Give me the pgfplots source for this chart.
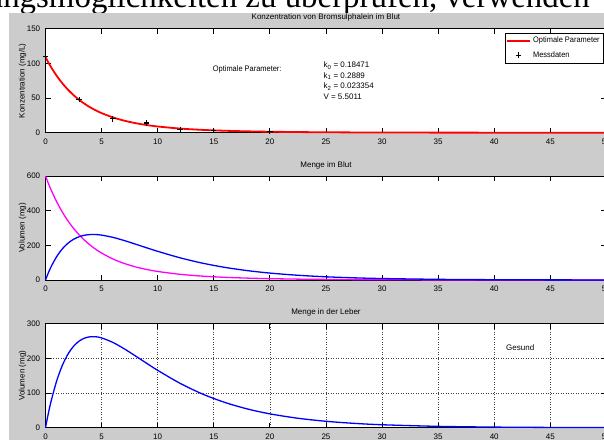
\documentclass[border=0pt]{standalone}
\usepackage{pgfplots}
\pgfplotsset{compat=1.18}
\usepackage{fontspec}
\setmainfont{Liberation Sans}
\newfontfamily\docfont{Liberation Serif}
\newfontfamily\narrowfont[FakeStretch=0.93]{Liberation Sans}
\newcommand{\mfont}{\fontsize{8}{9.6}\selectfont}
\definecolor{figgray}{RGB}{204,204,204}
\definecolor{mred}{RGB}{255,0,0}
\definecolor{mblue}{RGB}{0,0,255}
\definecolor{mmag}{RGB}{255,0,255}

\pgfplotsset{
 mstyle/.style={
  scale only axis, width=560.9pt, height=104pt, anchor=south west,
  xmin=0, xmax=50, xtick={0,5,...,50},
  tick align=inside, tick pos=both, xticklabel pos=lower, yticklabel pos=left,
  major tick length=5pt,
  axis line style={black, line width=0.8pt},
  every tick/.style={black, line width=0.8pt},
  axis background/.style={fill=white},
  tick label style={font=\mfont},
  every axis title/.style={at={(0.5,1)}, anchor=center, yshift=11pt, font=\mfont},
  every axis y label/.style={at={(axis description cs:-0.041,0.5)}, rotate=90, anchor=center, font=\mfont},
  xticklabel style={yshift=-2.4pt},
  yticklabel style={xshift=-1.8pt},
  /pgf/number format/assume math mode=true,
  scaled ticks=false,
  clip=false,
 }
}

\begin{document}
\begin{tikzpicture}[x=1pt,y=1pt]
\path[use as bounding box] (0pt,0pt) rectangle (604pt,-439pt);
\begin{scope}
\clip (0pt,0pt) rectangle (604pt,-439pt);
\fill[white] (0pt,0pt) rectangle (604pt,-439pt);
\node[anchor=base east, inner sep=0, font=\docfont\fontsize{32.9}{34}\selectfont] at (590pt,-7.5pt) {angsmöglichkeiten zu überprüfen, verwenden};
\fill[figgray] (9pt,-12.7pt) rectangle (620pt,-450pt);

% Panel 1
\begin{axis}[mstyle, at={(45.5pt,-132.7pt)},
  ymin=0, ymax=150, ytick={0,50,100,150},
  title={Konzentration von Bromsulphalein im Blut},
  ylabel={Konzentration (mg/L)},
  legend style={at={(0.9938,0.959)}, anchor=north east, draw=black, fill=white, font=\narrowfont\mfont, inner xsep=1pt, inner ysep=2pt, row sep=3pt, cells={anchor=west}},
  legend image code/.code={\draw[mark repeat=2,mark phase=2,#1] plot coordinates {(0pt,0pt) (11.5pt,0pt) (23pt,0pt)};}
]
\addplot[mred, line width=1.8pt, smooth, no marks] coordinates {
(0,109.07)(0.25,101.49)(0.5,94.48)(1,81.98)(1.5,71.27)(2,62.07)(2.5,54.17)(3,47.37)(3.5,41.50)(4,36.43)(4.5,32.05)(5,28.26)(6,22.10)(7,17.43)(8,13.86)(9,11.10)(10,8.96)(12,5.96)(14,4.06)(16,2.81)(18,1.98)(20,1.41)(22.5,0.93)(25,0.62)(27.5,0.41)(30,0.27)(35,0.13)(40,0.06)(45,0.03)(50,0.01)
};
\addlegendentry{Optimale Parameter}
\addplot[only marks, mark=+, mark size=2.7pt, black, line width=1.1pt] coordinates {
(0,110)(3,48)(6,20)(9,14)(12,5)(15,3)(20,1.5)
};
\addlegendentry{Messdaten}
\end{axis}

% Panel 2
\begin{axis}[mstyle, at={(45.5pt,-280pt)},
  ymin=0, ymax=600, ytick={0,200,400,600},
  title={Menge im Blut},
  ylabel={Volumen (mg)}
]
\addplot[mmag, line width=1.3pt, smooth, no marks] coordinates {
(0,600)(0.25,558.31)(0.5,519.75)(1,451.0)(1.5,392.07)(2,341.48)(2.5,298.0)(3,260.56)(3.5,228.29)(4,200.42)(4.5,176.32)(5,155.44)(6,121.56)(7,95.87)(8,76.22)(9,61.08)(10,49.31)(12,32.79)(14,22.32)(16,15.48)(18,10.89)(20,7.74)(22.5,5.11)(25,3.40)(27.5,2.28)(30,1.51)(35,0.69)(40,0.31)(45,0.14)(50,0.07)
};
\addplot[mblue, line width=1.3pt, smooth, no marks] coordinates {
(0,0)(0.25,40.73)(0.5,76.57)(1,135.40)(1.5,179.67)(2,212.11)(2.5,234.88)(3,249.88)(3.5,258.64)(4,262.42)(4.5,262.25)(5,259.03)(6,246.14)(7,227.99)(8,207.39)(9,186.19)(10,165.50)(12,128.0)(14,97.10)(16,72.76)(18,54.08)(20,39.98)(22.5,27.26)(25,18.53)(27.5,12.56)(30,8.54)(35,3.90)(40,1.78)(45,0.81)(50,0.37)
};
\end{axis}

% Panel 3
\begin{axis}[mstyle, at={(45.5pt,-427.7pt)},
  ymin=0, ymax=300, ytick={0,100,200,300},
  title={Menge in der Leber},
  ylabel={Volumen (mg)},
  grid=major, major grid style={black!75, line width=0.6pt, dash pattern=on 1pt off 1.5pt}
]
\addplot[mblue, line width=1.3pt, smooth, no marks] coordinates {
(0,0)(0.25,40.73)(0.5,76.57)(1,135.40)(1.5,179.67)(2,212.11)(2.5,234.88)(3,249.88)(3.5,258.64)(4,262.42)(4.5,262.25)(5,259.03)(6,246.14)(7,227.99)(8,207.39)(9,186.19)(10,165.50)(12,128.0)(14,97.10)(16,72.76)(18,54.08)(20,39.98)(22.5,27.26)(25,18.53)(27.5,12.56)(30,8.54)(35,3.90)(40,1.78)(45,0.81)(50,0.37)
};
\end{axis}

\node[anchor=west, inner sep=0, font=\narrowfont\mfont] at (212.7pt,-69.5pt) {Optimale Parameter:};
\node[anchor=west, inner sep=0, font=\mfont] at (323.3pt,-65.5pt) {k\textsubscript{0} = 0.18471};
\node[anchor=west, inner sep=0, font=\mfont] at (323.3pt,-76pt) {k\textsubscript{1} = 0.2889};
\node[anchor=west, inner sep=0, font=\mfont] at (323.3pt,-86.5pt) {k\textsubscript{2} = 0.023354};
\node[anchor=west, inner sep=0, font=\mfont] at (323.3pt,-97pt) {V = 5.5011};
\node[anchor=west, inner sep=0, font=\mfont] at (506pt,-347.3pt) {Gesund};
\end{scope}
\end{tikzpicture}
\end{document}
